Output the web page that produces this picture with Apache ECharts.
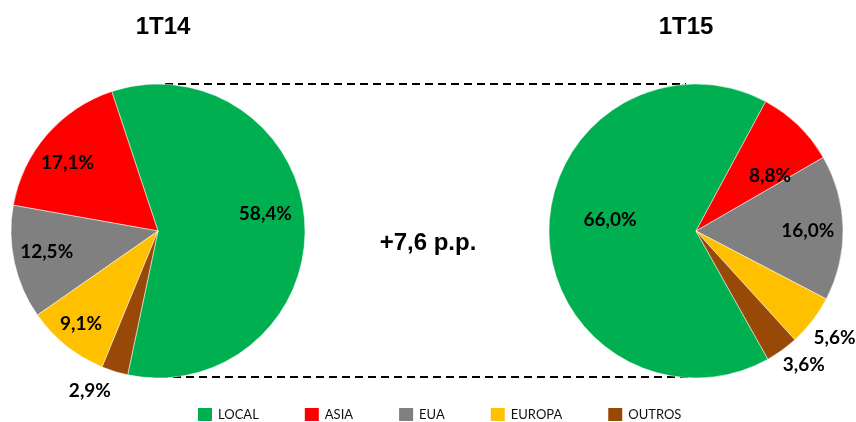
<!DOCTYPE html>
<html>
<head>
<meta charset="utf-8">
<script src="https://cdn.jsdelivr.net/npm/echarts@6/dist/echarts.min.js"></script>
<style>
html, body { margin: 0; padding: 0; background: #fff; }
#main { width: 856px; height: 422px; }
</style>
</head>
<body>
<div id="main"></div>
<script>
// categorias e valores (%)
var categorias = ['LOCAL', 'ASIA', 'EUA', 'EUROPA', 'OUTROS'];
var valores1T14 = [58.4, 17.1, 12.5, 9.1, 2.9];
var valores1T15 = [66.0, 8.8, 16.0, 5.6, 3.6];
var titulos = ['1T14', '1T15'];
var variacao = '+7,6 p.p.';

var cores = ['#00B050', '#FF0000', '#808080', '#FFC000', '#984807'];

// posicao dos rotulos: fracao do raio e desvio de angulo em graus (estilo)
var distRotulo1 = [0.74, 0.77, 0.77, 0.82, 1.18];
var angRotulo1 = [6, 4, -2, -1, -6];
var distRotulo2 = [0.59, 0.63, 0.76, 1.19, 1.17];
var angRotulo2 = [-8, -9, -1, 0, 3];

var R = 147;
var centro1 = [158, 231];
var centro2 = [696, 231];

var myChart = echarts.init(document.getElementById('main'));

function montaDados(vals) {
    var res = [];
    for (var i = 0; i < categorias.length; i++) {
        res.push({ name: categorias[i], value: vals[i], itemStyle: { color: cores[i] } });
    }
    return res;
}

function fmt(p) {
    return p.value.toFixed(1).replace('.', ',') + '%';
}

// empurra o rotulo "inside" ao longo do raio
function layoutRotulo(centro, dist, ang) {
    return function (params) {
        var r = params.labelRect;
        var dx = r.x + r.width / 2 - centro[0];
        var dy = r.y + r.height / 2 - centro[1];
        var a = Math.atan2(-dy, dx) + ang[params.dataIndex] * Math.PI / 180;
        var d = dist[params.dataIndex] * R;
        return {
            x: centro[0] + d * Math.cos(a),
            y: centro[1] - d * Math.sin(a),
            align: 'center',
            verticalAlign: 'middle'
        };
    };
}

var rotulo = {
    show: true,
    position: 'inside',
    formatter: fmt,
    color: '#000',
    fontFamily: 'Lato',
    fontWeight: 'bold',
    fontSize: 19
};

var estiloTitulo = { fontFamily: 'Liberation Sans', fontWeight: 'bold', fontSize: 24, color: '#000' };

var option = {
    animation: false,
    title: [{
        text: titulos[0],
        left: 158,
        top: 10,
        textAlign: 'center',
        textStyle: estiloTitulo
    }, {
        text: titulos[1],
        left: 681,
        top: 10,
        textAlign: 'center',
        textStyle: estiloTitulo
    }, {
        text: variacao,
        left: 423,
        top: 226,
        textAlign: 'center',
        textStyle: estiloTitulo
    }],
    legend: {
        data: categorias,
        left: 191,
        top: 401,
        itemWidth: 16,
        itemHeight: 15,
        itemGap: 44,
        icon: 'rect',
        textStyle: { fontFamily: 'Lato', fontSize: 13, color: '#111' }
    },
    graphic: [{
        type: 'line',
        z: -10,
        shape: { x1: 165, y1: 84, x2: 686, y2: 84 },
        style: { stroke: '#000', lineWidth: 2, lineDash: [8, 5] }
    }, {
        type: 'line',
        z: -10,
        shape: { x1: 160, y1: 377, x2: 690, y2: 377 },
        style: { stroke: '#000', lineWidth: 2, lineDash: [8, 5] }
    }],
    series: [{
        name: titulos[0],
        type: 'pie',
        center: centro1,
        radius: R,
        clockwise: false,
        startAngle: -101.9,
        label: rotulo,
        labelLine: { show: false },
        labelLayout: layoutRotulo(centro1, distRotulo1, angRotulo1),
        itemStyle: { borderColor: '#fff', borderWidth: 0.5 },
        emphasis: { disabled: true },
        data: montaDados(valores1T14)
    }, {
        name: titulos[1],
        type: 'pie',
        center: centro2,
        radius: R,
        clockwise: true,
        startAngle: 299.3,
        label: rotulo,
        labelLine: { show: false },
        labelLayout: layoutRotulo(centro2, distRotulo2, angRotulo2),
        itemStyle: { borderColor: '#fff', borderWidth: 0.5 },
        emphasis: { disabled: true },
        data: montaDados(valores1T15)
    }]
};

myChart.setOption(option);
</script>
</body>
</html>
